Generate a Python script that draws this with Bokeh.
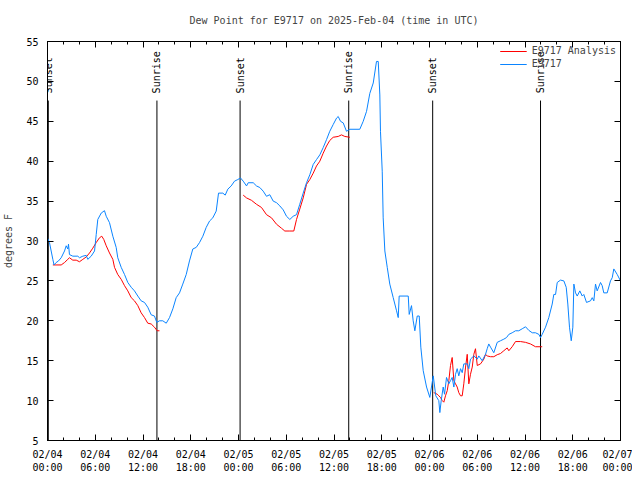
import math
from bokeh.plotting import figure
from bokeh.models import LinearAxis, FixedTicker, Range1d, Legend, LegendItem, LabelSet, ColumnDataSource
from bokeh.core.properties import value
from bokeh.embed import file_html
from bokeh.resources import INLINE

FONT = "DejaVu Sans Mono"

# hours since 2025-02-04 00:00 UTC
obs_hours = [0.04, 0.25, 0.67, 0.82, 1.09, 1.38, 1.72, 2.14, 2.35, 2.55, 2.64, 2.76, 3.18, 3.81, 4.02,
             4.44, 4.86, 5.06, 5.49, 5.91, 6.12, 6.32, 6.75, 7.16, 7.38, 7.79, 8.21, 8.63, 8.83, 9.26,
             9.68, 10.09, 10.52, 10.93, 11.35, 11.77, 12.19, 12.6, 13.03, 13.44, 13.73, 14.07, 14.49,
             14.92, 15.33, 15.75, 16.17, 16.59, 17.0, 17.43, 17.84, 18.26, 18.69, 19.1, 19.52, 19.94,
             20.36, 20.77, 21.2, 21.49, 22.03, 22.33, 22.66, 23.08, 23.5, 23.91, 24.25, 24.59, 25.01,
             25.22, 25.85, 26.26, 26.68, 27.1, 27.52, 27.93, 28.36, 28.78, 29.19, 29.62, 30.03, 30.45,
             30.87, 31.29, 31.7, 32.13, 32.55, 32.96, 33.39, 33.8, 34.22, 34.64, 35.06, 35.47, 35.9,
             36.32, 36.53, 36.82, 37.16, 37.57, 37.99, 39.24, 39.67, 40.09, 40.5, 40.93, 41.34, 41.56,
             41.76, 41.84, 42.06, 42.18, 42.39, 42.69, 43.01, 43.44, 43.86, 44.07, 44.19, 45.33, 45.45,
             45.74, 45.95, 46.16, 46.46, 46.71, 46.91, 47.21, 47.63, 48.04, 48.47, 48.79, 49.17, 49.3,
             49.47, 49.72, 49.89, 50.14, 50.43, 50.64, 50.85, 51.06, 51.27, 51.48, 51.68, 51.9, 52.11,
             52.31, 52.74, 52.94, 53.15, 53.57, 54.0, 54.2, 54.62, 55.04, 55.25, 55.45, 55.67, 56.08,
             56.51, 56.92, 57.34, 57.68, 57.97, 58.39, 58.81, 59.22, 59.65, 60.07, 60.48, 60.91, 61.32,
             61.74, 61.95, 62.16, 62.58, 62.99, 63.42, 63.62, 63.84, 64.05, 64.46, 64.88, 65.18, 65.38,
             65.59, 65.81, 66.01, 66.14, 66.35, 66.56, 66.89, 67.19, 67.39, 67.73, 68.23, 68.45, 68.65,
             68.86, 69.07, 69.49, 69.7, 69.9, 70.33, 70.74, 70.96, 71.16, 71.59, 72.0]
obs_dewpt = [30.3, 29.8, 27.7, 27.0, 27.3, 27.5, 27.9, 28.75, 29.4, 29.0, 29.6, 28.3, 28.1, 28.1, 27.9,
             28.1, 28.2, 27.7, 28.1, 28.75, 30.8, 32.7, 33.5, 33.8, 33.1, 32.3, 30.6, 29.2, 27.9, 26.7,
             25.8, 24.8, 24.2, 23.75, 23.1, 22.5, 22.3, 21.7, 20.75, 20.6, 19.8, 20.0, 20.0,
             19.7, 20.4, 21.5, 22.9, 23.5, 24.6, 25.8, 27.5, 29.0, 29.2, 29.8, 30.6, 31.7,
             32.5, 32.9, 33.75, 36.0, 36.0, 35.75, 36.5, 36.9, 37.5, 37.7, 37.9, 37.5, 36.9,
             37.3, 37.3, 36.9, 36.7, 36.25, 35.6, 35.8, 35.0, 34.8, 34.4, 33.9, 33.1, 32.7,
             33.1, 33.3, 34.6, 36.0, 37.3, 38.3, 39.6, 40.2, 40.8, 41.7, 42.7, 43.75, 44.6,
             45.4, 45.6, 45.0, 44.8, 43.75, 44.0, 44.0, 45.0, 46.25, 48.5, 49.8, 52.5, 52.5,
             48.3, 43.75, 38.75, 32.9, 28.75, 26.7, 24.6, 22.9, 21.25, 20.4, 23.1, 23.1, 20.8,
             21.9, 20.0, 18.75, 20.6, 20.6, 16.7, 13.75, 11.7, 10.4, 13.1, 10.6, 10.0, 8.5,
             10.0, 11.7, 10.8, 12.9, 12.1, 12.5, 12.9, 11.7, 13.3, 14.0, 13.1, 14.0, 13.5,
             14.6, 14.6, 14.0, 15.2, 15.6, 15.2, 15.6, 15.0, 15.8, 16.5, 17.1, 16.7, 16.0,
             17.3, 17.5, 17.7, 17.9, 18.3, 18.5, 18.75, 18.75, 19.0, 19.25, 18.8, 18.5, 18.5,
             18.3, 17.9, 18.3, 19.2, 20.4, 22.1, 23.3, 23.3, 24.8, 25.1, 25.0, 24.2, 22.1,
             19.2, 17.5, 19.2, 24.6, 23.5, 23.1, 23.75, 23.1, 23.3, 22.3, 22.5, 22.9, 22.5,
             24.6, 23.75, 24.8, 24.4, 23.5, 23.5, 25.0, 25.4, 26.5, 25.8, 25.0]

ana_hours_1 = [0.67, 1.72, 2.14, 2.55, 2.76, 3.18, 3.61, 4.02, 4.44, 4.86, 5.28, 5.69, 6.12, 6.53, 6.82,
               7.07, 7.38, 7.79, 8.21, 8.42, 8.83, 9.26, 9.68, 10.09, 10.52, 10.93, 11.35, 11.77,
               12.19, 12.6, 13.03, 13.44, 13.78, 14.07]
ana_dewpt_1 = [27.0, 27.0, 27.3, 27.7, 27.9, 27.6, 27.6, 27.4, 27.7, 28.0, 28.5, 29.1, 29.8, 30.4, 30.6,
               30.2, 29.4, 28.5, 27.7, 26.7, 25.8, 25.2, 24.4, 23.75, 22.9, 22.5, 21.9, 21.0,
               20.4, 19.7, 19.6, 19.2, 18.75, 18.75]
ana_hours_2 = [24.59, 25.01, 25.63, 26.26, 26.89, 27.52, 28.15, 28.78, 29.4, 29.82, 30.45, 30.95, 31.29,
               31.7, 32.13, 32.55, 32.96, 33.39, 33.8, 34.22, 34.64, 35.06, 35.47, 35.9, 36.53, 36.94,
               37.36, 37.99]
ana_dewpt_2 = [35.75, 35.4, 35.1, 34.6, 34.2, 33.3, 32.9, 32.1, 31.6, 31.25, 31.25, 31.25, 32.7,
               34.0, 35.4, 37.1, 37.7, 38.5, 39.4, 40.0, 41.0, 41.9, 42.6, 43.0, 43.1, 43.3,
               43.1, 43.0]
ana_hours_3 = [48.54, 48.97, 49.17, 49.38, 49.6, 49.8, 50.01, 50.23, 50.43, 50.64, 50.85, 51.06, 51.27,
               51.48, 51.68, 51.9, 52.11, 52.31, 52.53, 52.74, 52.94, 53.15, 53.37, 53.57, 53.78, 54.0,
               54.41, 54.83, 55.04, 55.25, 55.67, 56.08, 56.51, 56.92, 57.34, 57.76, 57.97, 58.39,
               58.81, 59.44, 60.07, 60.69, 61.32, 61.95, 62.16]
ana_dewpt_3 = [11.0, 10.8, 10.6, 10.4, 10.0, 9.8, 10.6, 11.25, 12.5, 14.4, 15.4, 12.5, 12.1,
               11.7, 11.0, 10.6, 10.6, 12.1, 14.2, 15.8, 12.1, 13.3, 14.2, 15.8, 16.5, 14.4,
               14.6, 15.2, 15.8, 15.6, 15.5, 15.5, 15.75, 15.9, 16.25, 16.6, 16.25, 16.75,
               17.4, 17.4, 17.3, 17.1, 16.75, 16.75, 16.75]

sun_hours = [0.1, 13.75, 24.2, 37.85, 48.4, 61.95]
sun_labels = ["Sunset", "Sunrise", "Sunset", "Sunrise", "Sunset", "Sunrise"]

x_ticks = [0, 6, 12, 18, 24, 30, 36, 42, 48, 54, 60, 66, 72]
x_tick_labels = ["02/04\n00:00", "02/04\n06:00", "02/04\n12:00", "02/04\n18:00",
                 "02/05\n00:00", "02/05\n06:00", "02/05\n12:00", "02/05\n18:00",
                 "02/06\n00:00", "02/06\n06:00", "02/06\n12:00", "02/06\n18:00",
                 "02/07\n00:00"]
x_minor = [h for h in range(0, 73, 2)]
y_ticks = [5, 10, 15, 20, 25, 30, 35, 40, 45, 50, 55]

p = figure(width=632, height=475, x_range=Range1d(0, 72), y_range=Range1d(5, 55),
           output_backend="svg", toolbar_location=None,
           min_border_left=47, min_border_right=12, min_border_top=40, min_border_bottom=35,
           x_axis_location=None, y_axis_location=None)
p.title.text = "Dew Point for E9717 on 2025-Feb-04 (time in UTC)"
p.title.align = "center"
p.title.text_font = FONT
p.title.text_font_size = "10px"
p.title.text_font_style = "normal"
p.title.standoff = 28
p.title.vertical_align = "top"
p.grid.visible = False
p.outline_line_color = "black"
p.outline_line_width = 1


def style(ax, labels=True):
    ax.axis_line_color = "black"
    ax.major_tick_line_color = "black"
    ax.minor_tick_line_color = "black"
    ax.major_tick_in = 6
    ax.major_tick_out = 0
    ax.minor_tick_in = 3
    ax.minor_tick_out = 0
    ax.major_label_text_font = FONT
    ax.major_label_text_font_size = "10px"
    ax.major_label_text_color = "black"
    if not labels:
        ax.major_label_text_color = None
        ax.major_label_text_alpha = 0
        ax.major_label_text_font_size = "0px"
        ax.major_label_standoff = 0
    ax.axis_label_text_font = FONT
    ax.axis_label_text_font_size = "10px"
    ax.axis_label_text_font_style = "normal"


xt = FixedTicker(ticks=x_ticks, minor_ticks=x_minor)
yt = FixedTicker(ticks=y_ticks, minor_ticks=[])

xb = LinearAxis(ticker=xt)
style(xb)
xb.major_label_overrides = {t: l for t, l in zip(x_ticks, x_tick_labels)}
xb.major_label_standoff = 8
p.add_layout(xb, "below")

xa = LinearAxis(ticker=FixedTicker(ticks=x_ticks, minor_ticks=x_minor))
style(xa, labels=False)
p.add_layout(xa, "above")

yl = LinearAxis(ticker=yt, axis_label="degrees F")
style(yl)
yl.major_label_standoff = 9
yl.axis_label_standoff = 9
p.add_layout(yl, "left")

yr = LinearAxis(ticker=FixedTicker(ticks=y_ticks, minor_ticks=[]))
style(yr, labels=False)
p.add_layout(yr, "right")

# sunrise / sunset markers
sun_src = ColumnDataSource(dict(x=sun_hours, y0=[47.6] * len(sun_hours), y1=[5] * len(sun_hours),
                                ylab=[48.5] * len(sun_hours), text=sun_labels))
p.segment(x0="x", y0="y0", x1="x", y1="y1", source=sun_src, line_color="black", line_width=1)
p.add_layout(LabelSet(x="x", y="ylab", text="text", source=sun_src, angle=math.pi / 2,
                      text_align="left", text_baseline="middle", text_font=value(FONT),
                      text_font_size=value("10px"), text_color="black"))

nan = float("nan")
ana_hours = ana_hours_1 + [nan] + ana_hours_2 + [nan] + ana_hours_3
ana_dewpt = ana_dewpt_1 + [nan] + ana_dewpt_2 + [nan] + ana_dewpt_3

r_ana = p.line(ana_hours, ana_dewpt, line_color="#ff0000", line_width=1)
r_obs = p.line(obs_hours, obs_dewpt, line_color="#0a84ff", line_width=1)

legend = Legend(items=[LegendItem(label="E9717 Analysis", renderers=[r_ana]),
                       LegendItem(label="E9717", renderers=[r_obs])],
                location="top_right")
legend.label_text_font = FONT
legend.label_text_font_size = "10px"
legend.background_fill_alpha = 0
legend.border_line_alpha = 0
legend.glyph_width = 27
legend.glyph_height = 10
legend.label_height = 10
legend.spacing = 2
legend.padding = 2
legend.margin = 2
p.add_layout(legend)

open("out.html", "w").write(file_html(p, INLINE))
